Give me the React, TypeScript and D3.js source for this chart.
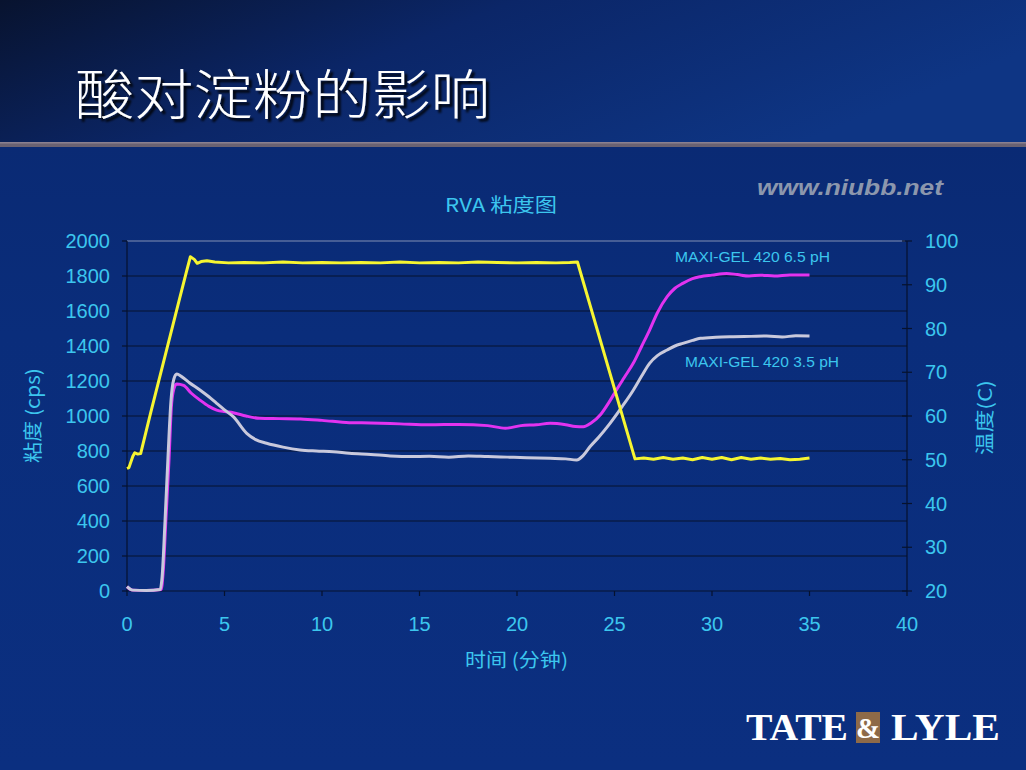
import React from "react";
import * as d3 from "d3";

const W = 1026;
const H = 770;

// Temperature (yellow)
const tempTime = [0, 0.1, 0.3, 0.4, 0.55, 0.7, 1.2, 1.7, 2.2, 2.7, 3.05, 3.25, 3.45, 3.6, 3.8, 4.1, 4.5, 5.2, 6, 7, 8, 9, 10, 11, 12, 13, 14, 15, 16, 17, 18, 19, 20, 21, 22, 22.7, 23.1, 26.05, 26.5, 27, 27.5, 28, 28.5, 29, 29.5, 30, 30.5, 31, 31.5, 32, 32.5, 33, 33.5, 34, 34.5, 35];
const tempValue = [48, 48.2, 50.8, 51.6, 51.3, 51.4, 60.5, 69.3, 78.1, 86.9, 93.0, 96.4, 95.8, 94.9, 95.3, 95.5, 95.2, 95.0, 95.1, 95.0, 95.2, 95.0, 95.1, 95.0, 95.1, 95.0, 95.2, 95.0, 95.1, 95.0, 95.2, 95.1, 95.0, 95.1, 95.0, 95.1, 95.2, 50.2, 50.4, 50.1, 50.5, 50.1, 50.4, 50.0, 50.5, 50.1, 50.5, 50.0, 50.5, 50.1, 50.4, 50.1, 50.3, 50.0, 50.1, 50.4];

// MAXI-GEL 420 6.5 pH (magenta)
const phHighTime = [0, 0.15, 0.3, 1.0, 1.75, 1.85, 2.0, 2.15, 2.29, 2.45, 2.55, 2.9, 3.3, 3.74, 4.2, 4.6, 5.0, 5.45, 6.1, 6.8, 7.8, 8.9, 10, 11.4, 12.5, 14, 15.5, 17, 18.5, 19.4, 20.2, 21, 21.7, 22.5, 23.0, 23.4, 23.8, 24.3, 24.7, 25.1, 25.5, 25.96, 26.4, 26.8, 27.2, 27.7, 28.1, 28.5, 29.0, 29.4, 30.0, 30.75, 31.3, 31.9, 32.5, 33.2, 34, 35];
const phHighValue = [25, 10, 5, 3, 8, 100, 420, 740, 1074, 1170, 1183, 1175, 1130, 1091, 1055, 1034, 1025, 1019, 1000, 987, 985, 983, 975, 962, 960, 955, 950, 952, 945, 930, 945, 950, 958, 950, 940, 939, 960, 1010, 1075, 1149, 1220, 1301, 1400, 1491, 1590, 1682, 1730, 1758, 1785, 1796, 1805, 1815, 1808, 1800, 1805, 1800, 1806, 1806];

// MAXI-GEL 420 3.5 pH (grey)
const phLowTime = [0, 0.15, 0.3, 1.0, 1.7, 1.8, 1.95, 2.1, 2.25, 2.4, 2.55, 2.8, 3.2, 3.74, 4.2, 4.6, 5.0, 5.45, 6.14, 6.6, 7.16, 8.0, 8.87, 9.7, 10.58, 11.4, 12.5, 13.5, 14.5, 15.5, 16.5, 17.5, 18.5, 19.5, 20.5, 21.7, 22.5, 23.06, 23.4, 23.74, 24.2, 24.77, 25.4, 25.97, 26.4, 26.8, 27.2, 27.7, 28.1, 28.5, 29.0, 29.4, 30.2, 31.1, 32.0, 32.8, 33.6, 34.3, 35];
const phLowValue = [25, 12, 5, 3, 8, 80, 400, 760, 1080, 1210, 1240, 1225, 1190, 1149, 1110, 1072, 1035, 996, 901, 865, 844, 822, 806, 800, 796, 787, 780, 772, 768, 770, 765, 772, 768, 765, 762, 758, 755, 749, 775, 824, 880, 958, 1055, 1149, 1230, 1301, 1345, 1377, 1400, 1415, 1432, 1444, 1450, 1453, 1455, 1457, 1452, 1458, 1457];

const xTicks = [0, 5, 10, 15, 20, 25, 30, 35, 40];
const yTicks = [0, 200, 400, 600, 800, 1000, 1200, 1400, 1600, 1800, 2000];
const y2Ticks = [20, 30, 40, 50, 60, 70, 80, 90, 100];

const TITLE = "酸对淀粉的影响";
const CHART_TITLE = "RVA 粘度图";
const X_TITLE = "时间 (分钟)";
const Y_TITLE = "粘度 (cps)";
const Y2_TITLE = "温度(C)";
const LABEL_HIGH = "MAXI-GEL 420 6.5 pH";
const LABEL_LOW = "MAXI-GEL 420 3.5 pH";

const CYAN = "#3cc6ee";
const SANS = "'Liberation Sans', Arial, sans-serif";
const CJK = "'Noto Sans CJK SC', sans-serif";
const SERIF = "'Liberation Serif', 'Times New Roman', serif";

export default function App() {
  const left = 127, right = 907, top = 241, bottom = 591;
  const x = d3.scaleLinear().domain([0, 40]).range([left, right]);
  const y = d3.scaleLinear().domain([0, 2000]).range([bottom, top]);
  const y2 = d3.scaleLinear().domain([20, 100]).range([bottom, top]);

  const line = (ts: number[], vs: number[], sc: d3.ScaleLinear<number, number>, curve: d3.CurveFactory) =>
    d3.line<number>().x((_, i) => x(ts[i])).y((v) => sc(v)).curve(curve)(vs) || "";

  return (
    <svg width={W} height={H} style={{ position: "absolute", left: 0, top: 0, display: "block" }}>
      <defs>
        <linearGradient id="bgTop" x1="0" y1="0" x2="1" y2="0.35">
          <stop offset="0" stopColor="#08132f" />
          <stop offset="0.45" stopColor="#0b2668" />
          <stop offset="1" stopColor="#0e3584" />
        </linearGradient>
        <linearGradient id="bgBottom" x1="0" y1="0" x2="0" y2="1">
          <stop offset="0" stopColor="#0a2a74" />
          <stop offset="0.3" stopColor="#0a2d7b" />
          <stop offset="1" stopColor="#0b2f80" />
        </linearGradient>
        <filter id="shadow" x="-10%" y="-10%" width="130%" height="140%">
          <feDropShadow dx="3" dy="3" stdDeviation="1" floodColor="#000" floodOpacity="0.9" />
        </filter>
      </defs>
      <rect x={0} y={0} width={W} height={146} fill="url(#bgTop)" />
      <rect x={0} y={146} width={W} height={H - 146} fill="url(#bgBottom)" />
      <rect x={0} y={142} width={W} height={5} fill="#6a6272" />
      <rect x={0} y={142} width={W} height={1.5} fill="#8a8090" />

      <text x={75} y={115} fontFamily={CJK} fontSize={54} fill="#ffffff" textLength={415}
        lengthAdjust="spacingAndGlyphs" filter="url(#shadow)" fontWeight={300}>{TITLE}</text>

      <text x={757} y={195} fontFamily={SANS} fontSize={22} fontWeight="bold" fontStyle="italic"
        fill="#8c97ad" textLength={186} lengthAdjust="spacingAndGlyphs">www.niubb.net</text>

      <text x={445} y={212} fontFamily={CJK} fontSize={19} fill={CYAN} textLength={112} lengthAdjust="spacingAndGlyphs">{CHART_TITLE}</text>

      {/* gridlines */}
      {yTicks.filter((t) => t > 0 && t < 2000).map((t) => (
        <line key={t} x1={left} x2={right} y1={y(t)} y2={y(t)} stroke="#06122e" strokeWidth={1.2} />
      ))}
      <line x1={left} x2={right - 2} y1={top} y2={top} stroke="#8190b4" strokeWidth={1.2} />
      {/* axes */}
      <line x1={left} x2={left} y1={top} y2={bottom} stroke="#06122e" strokeWidth={1.2} />
      <line x1={left} x2={right} y1={bottom} y2={bottom} stroke="#06122e" strokeWidth={1.2} />
      <line x1={right} x2={right} y1={top} y2={bottom} stroke="#06122e" strokeWidth={1.2} />
      {yTicks.map((t) => (
        <g key={t}>
          <line x1={left - 5} x2={left} y1={y(t)} y2={y(t)} stroke="#06122e" strokeWidth={1.2} />
          <text x={110} y={y(t) + 7} textAnchor="end" fontFamily={SANS} fontSize={20} fill={CYAN}>{t}</text>
        </g>
      ))}
      {y2Ticks.map((t) => (
        <g key={t}>
          <line x1={right - 5} x2={right + 5} y1={y2(t)} y2={y2(t)} stroke="#06122e" strokeWidth={1.2} />
          <text x={925} y={y2(t) + 7} fontFamily={SANS} fontSize={20} fill={CYAN}>{t}</text>
        </g>
      ))}
      {xTicks.map((t) => (
        <g key={t}>
          <line x1={x(t)} x2={x(t)} y1={bottom} y2={bottom + 5} stroke="#06122e" strokeWidth={1.2} />
          <text x={x(t)} y={631} textAnchor="middle" fontFamily={SANS} fontSize={20} fill={CYAN}>{t}</text>
        </g>
      ))}

      <text x={465} y={667} fontFamily={CJK} fontSize={19} fill={CYAN} textLength={103} lengthAdjust="spacingAndGlyphs">{X_TITLE}</text>
      <text transform={`translate(40,463) rotate(-90)`} fontFamily={CJK} fontSize={19} fill={CYAN} textLength={95} lengthAdjust="spacingAndGlyphs">{Y_TITLE}</text>
      <text transform={`translate(992,455) rotate(-90)`} fontFamily={CJK} fontSize={19} fill={CYAN} textLength={75} lengthAdjust="spacingAndGlyphs">{Y2_TITLE}</text>

      {/* series */}
      <path d={line(phHighTime, phHighValue, y, d3.curveMonotoneX)} fill="none" stroke="#e233f0" strokeWidth={3} strokeLinejoin="round" />
      <path d={line(phLowTime, phLowValue, y, d3.curveMonotoneX)} fill="none" stroke="#c9c9dc" strokeWidth={3} strokeLinejoin="round" />
      <path d={line(tempTime, tempValue, y2, d3.curveLinear)} fill="none" stroke="#f6f531" strokeWidth={3} strokeLinejoin="round" />

      <text x={675} y={262} fontFamily={SANS} fontSize={14} fill={CYAN} textLength={155} lengthAdjust="spacingAndGlyphs">{LABEL_HIGH}</text>
      <text x={685} y={367} fontFamily={SANS} fontSize={14} fill={CYAN} textLength={154} lengthAdjust="spacingAndGlyphs">{LABEL_LOW}</text>

      {/* logo */}
      <text x={746} y={740} fontFamily={SERIF} fontWeight="bold" fontSize={37}
        fill="#ffffff" textLength={102} lengthAdjust="spacingAndGlyphs">TATE</text>
      <rect x={856} y={712} width={24} height={31} fill="#8e6a48" />
      <text x={868} y={738} textAnchor="middle" fontFamily={SERIF} fontWeight="bold" fontSize={29} fill="#ffffff">&amp;</text>
      <text x={891} y={740} fontFamily={SERIF} fontWeight="bold" fontSize={37}
        fill="#ffffff" textLength={109} lengthAdjust="spacingAndGlyphs">LYLE</text>
    </svg>
  );
}
